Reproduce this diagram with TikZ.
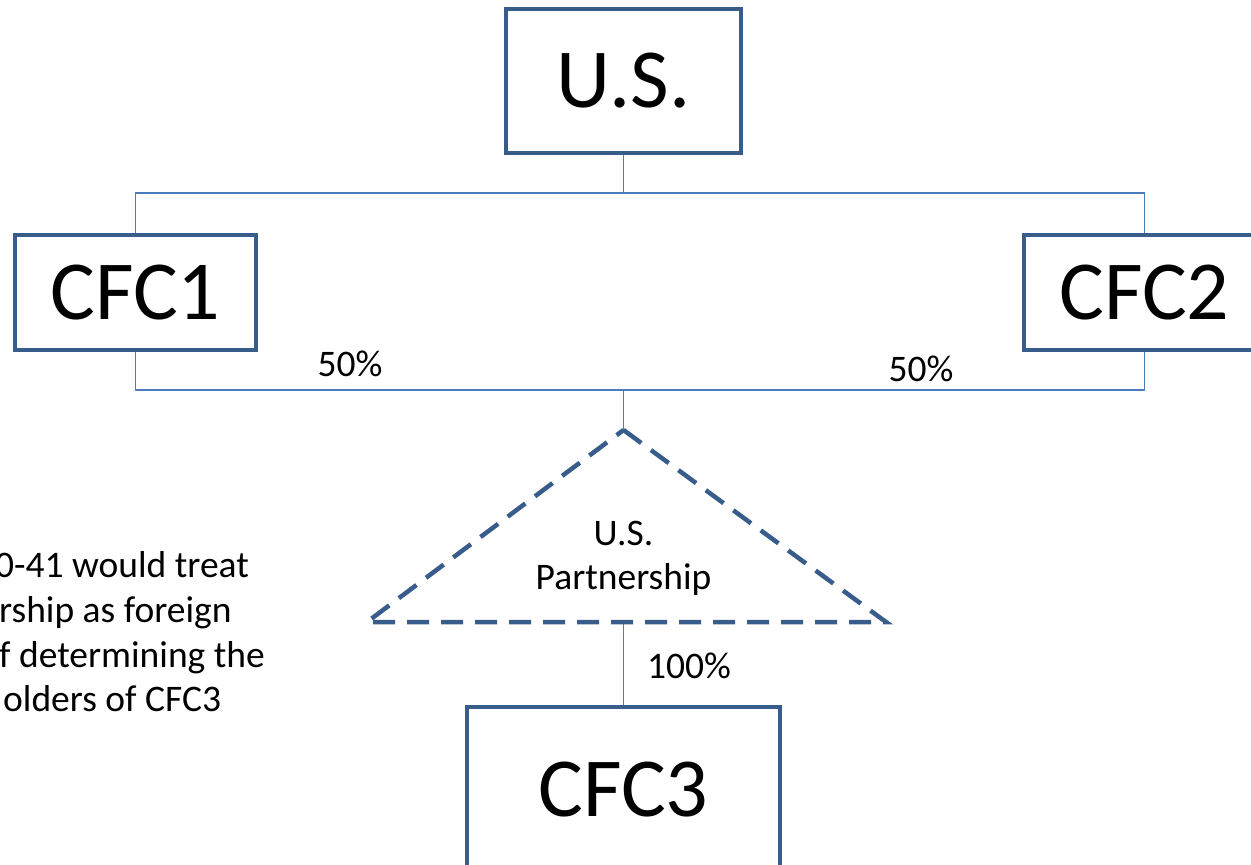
\documentclass[tikz,border=0pt]{standalone}
\usepackage{fontspec}
\setmainfont{Carlito}
\definecolor{boxblue}{HTML}{385D8A}
\definecolor{linkblue}{HTML}{4A7EBB}
\tikzset{
  entity/.style={draw=boxblue, line width=4.5pt, fill=white, inner sep=0pt,
    font=\fontsize{84}{100}\selectfont, text=black},
  link/.style={draw=linkblue, line width=1.5pt},
  pct/.style={font=\fontsize{37.5}{44}\selectfont, text=black, inner sep=0pt},
  note/.style={font=\fontsize{37.5}{44}\selectfont, text=black, inner sep=0pt, anchor=base west},
  partner/.style={draw=boxblue, line width=4.5pt, dash pattern=on 22pt off 12pt},
}
\begin{document}
\begin{tikzpicture}[x=1pt,y=-1pt]
\clip (0,0) rectangle (1251,865);
\fill[white] (0,0) rectangle (1251,865);
% entities
\node[entity, minimum width=235pt, minimum height=144pt] (us) at (623.5,81) {U.S.};
\node[entity, minimum width=241pt, minimum height=115pt] (cfc1) at (135.5,292.5) {CFC1};
\node[entity, minimum width=241pt, minimum height=115pt] (cfc2) at (1144.5,292.5) {CFC2};
\node[entity, minimum width=313pt, minimum height=166pt] (cfc3) at (623.5,790) {CFC3};
% partnership triangle
\coordinate (apex) at (623.5,430);
\coordinate (bl) at (367,622);
\coordinate (br) at (886,622);
\coordinate (pbase) at (623.5,622);
\coordinate (top) at (623.5,193);
\coordinate (join) at (623.5,390);
% connectors
\draw[link] (us.south) -- (top);
\draw[link] (top) -| (cfc1.north);
\draw[link] (top) -| (cfc2.north);
\draw[link] (cfc1.south) |- (join);
\draw[link] (cfc2.south) |- (join);
\draw[link] (join) -- (apex);
\draw[link] (pbase) -- (cfc3.north);
\draw[partner] (apex) -- (br) -- (bl) -- cycle;
\node[pct, align=center] (ptext) at (623.5,558) {U.S.\\Partnership};
% labels
\node[pct] (p1) at (350,364) {50\%};
\node[pct] (p2) at (921,369) {50\%};
\node[pct] (p3) at (689,666) {100\%};
% note
\node[note] (n1) at (-5,577) {0-41 would treat};
\node[note] (n2) at (-1,622) {rship as foreign};
\node[note] (n3) at (-1,667) {f determining the};
\node[note] (n4) at (3,711) {olders of CFC3};
\end{tikzpicture}
\end{document}
